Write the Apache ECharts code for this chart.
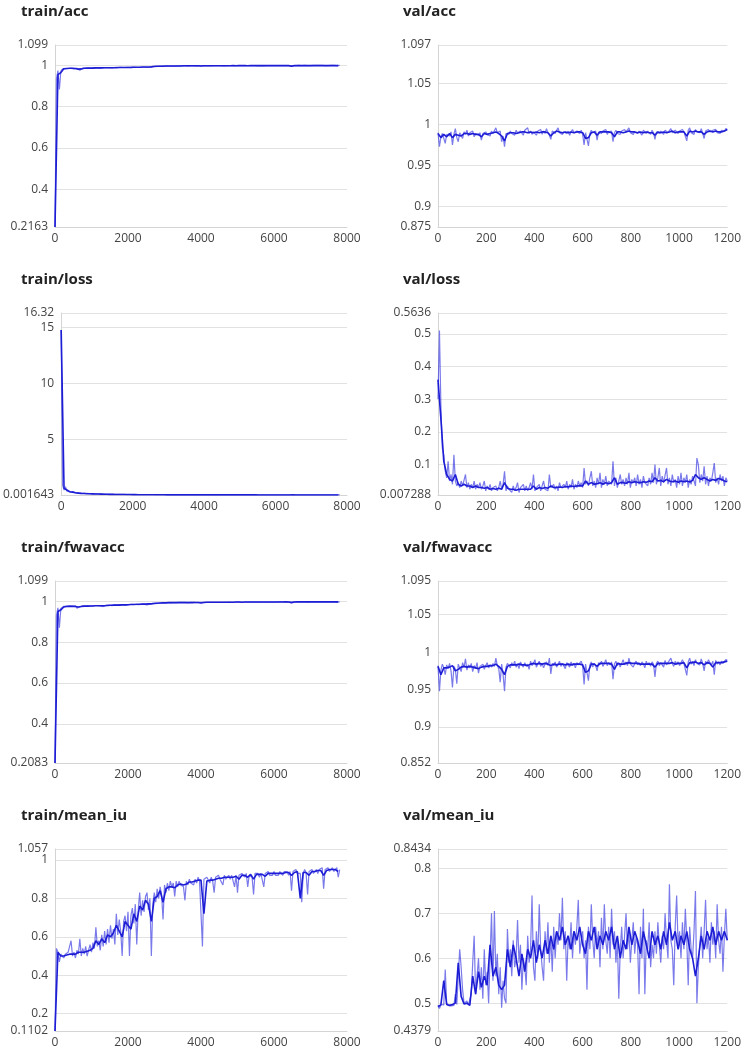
<!DOCTYPE html>
<html>
<head>
<meta charset="utf-8">
<script src="https://cdn.jsdelivr.net/npm/echarts@6/dist/echarts.min.js"></script>
<style>
html,body{margin:0;padding:0;background:#fff;}
#chart{width:744px;height:1050px;}
</style>
</head>
<body>
<div id="chart"></div>
<script>
// ---- sampling grids (steps between stored points) ----
const TRAIN_RAW_STEP = 40;     // train raw values every 40 steps (0..7800)
const TRAIN_SMOOTH_STEP = 80;  // train smoothed values every 80 steps
const VAL_RAW_STEP = 6;        // val raw values every 6 steps (0..1200)
const VAL_SMOOTH_STEP = 12;    // val smoothed values every 12 steps

// ---- train/acc ----
const trainAccRaw = [
0.2163,0.935,0.975,0.883,0.972,0.982,0.986,0.984,0.987,0.985,
0.988,0.986,0.987,0.983,0.988,0.986,0.984,0.977,0.985,0.987,
0.988,0.986,0.988,0.987,0.989,0.986,0.988,0.989,0.987,0.988,
0.989,0.987,0.988,0.990,0.988,0.989,0.987,0.989,0.990,0.988,
0.989,0.990,0.988,0.990,0.989,0.991,0.989,0.990,0.988,0.991,
0.990,0.991,0.989,0.992,0.990,0.991,0.992,0.990,0.992,0.991,
0.993,0.991,0.992,0.990,0.993,0.992,0.994,0.995,0.994,0.996,
0.996,0.995,0.996,0.997,0.996,0.997,0.996,0.997,0.997,0.996,
0.997,0.997,0.998,0.997,0.997,0.998,0.997,0.998,0.997,0.998,
0.998,0.997,0.998,0.998,0.997,0.998,0.998,0.997,0.998,0.998,
0.996,0.998,0.998,0.999,0.998,0.998,0.999,0.998,0.998,0.999,
0.998,0.999,0.998,0.999,0.999,0.998,0.999,0.998,0.999,0.999,
0.998,0.999,0.999,0.998,0.999,0.999,0.998,0.999,0.999,0.999,
0.998,0.999,0.999,0.999,0.998,0.999,0.999,0.999,0.999,0.998,
0.999,0.999,0.999,0.998,0.999,0.999,0.999,0.999,0.998,0.999,
0.999,0.999,0.999,0.999,0.998,0.999,0.999,0.999,0.999,0.999,
0.999,0.999,0.994,0.999,0.999,0.999,0.999,1.0,0.999,0.999,
0.999,1.0,0.999,0.999,1.0,0.999,0.999,1.0,0.999,1.0,
0.999,1.0,0.999,1.0,1.0,0.999,1.0,0.999,1.0,1.0,
0.999,1.0,1.0,0.999,1.0,1.0];
const trainAccSmooth = [
0.2163,0.955,0.965,0.984,0.985,0.986,0.986,0.985,0.982,0.983,
0.986,0.987,0.987,0.987,0.988,0.988,0.988,0.989,0.989,0.989,
0.989,0.989,0.990,0.990,0.990,0.990,0.990,0.991,0.991,0.991,
0.992,0.992,0.992,0.993,0.995,0.996,0.996,0.996,0.997,0.997,
0.997,0.997,0.997,0.997,0.998,0.998,0.998,0.998,0.998,0.998,
0.997,0.998,0.998,0.998,0.998,0.998,0.998,0.998,0.998,0.998,
0.998,0.999,0.998,0.999,0.999,0.999,0.998,0.999,0.999,0.999,
0.999,0.999,0.999,0.999,0.999,0.999,0.999,0.999,0.999,0.999,
0.999,0.996,0.999,0.999,0.999,0.999,0.999,0.999,0.999,0.999,
0.999,0.999,0.999,0.999,0.999,0.999,0.999,0.999];

// ---- train/loss ----
const trainLossRaw = [
14.8,0.9,0.45,0.75,0.35,0.3,0.28,0.25,0.3,0.22,
0.2,0.18,0.22,0.17,0.15,0.16,0.14,0.13,0.15,0.12,
0.12,0.11,0.1,0.11,0.1,0.09,0.1,0.09,0.08,0.09,
0.08,0.08,0.07,0.08,0.07,0.07,0.06,0.07,0.06,0.06,
0.06,0.05,0.06,0.05,0.05,0.05,0.04,0.05,0.04,0.04,
0.04,0.04,0.04,0.03,0.04,0.03,0.03,0.03,0.03,0.03,
0.03,0.03,0.03,0.03,0.025,0.025,0.02,0.02,0.02,0.02,
0.02,0.018,0.018,0.017,0.018,0.016,0.017,0.016,0.016,0.015,
0.016,0.015,0.015,0.014,0.015,0.014,0.014,0.015,0.013,0.014,
0.013,0.014,0.013,0.013,0.014,0.012,0.013,0.012,0.013,0.012,
0.02,0.012,0.012,0.011,0.012,0.011,0.012,0.011,0.011,0.012,
0.011,0.011,0.010,0.011,0.011,0.010,0.011,0.010,0.010,0.011,
0.010,0.010,0.011,0.010,0.010,0.009,0.010,0.010,0.009,0.010,
0.009,0.010,0.009,0.009,0.010,0.009,0.009,0.009,0.008,0.009,
0.009,0.008,0.009,0.009,0.008,0.008,0.009,0.008,0.008,0.008,
0.008,0.008,0.007,0.008,0.008,0.007,0.008,0.007,0.007,0.008,
0.007,0.007,0.015,0.007,0.007,0.007,0.006,0.007,0.007,0.006,
0.007,0.006,0.006,0.007,0.006,0.006,0.006,0.006,0.006,0.005,
0.006,0.005,0.006,0.005,0.005,0.006,0.005,0.005,0.005,0.005,
0.005,0.005,0.004,0.005,0.005,0.004];
const trainLossSmooth = [
14.8,0.6,0.45,0.3,0.26,0.2,0.17,0.15,0.14,0.12,
0.11,0.10,0.09,0.09,0.08,0.07,0.07,0.06,0.06,0.05,
0.05,0.05,0.045,0.04,0.04,0.035,0.035,0.03,0.03,0.03,
0.028,0.026,0.025,0.022,0.02,0.019,0.018,0.017,0.016,0.016,
0.015,0.015,0.014,0.014,0.014,0.013,0.013,0.013,0.013,0.012,
0.014,0.012,0.012,0.011,0.011,0.011,0.011,0.010,0.010,0.010,
0.010,0.010,0.010,0.009,0.009,0.009,0.009,0.009,0.009,0.008,
0.008,0.008,0.008,0.008,0.008,0.008,0.008,0.007,0.007,0.007,
0.007,0.010,0.007,0.007,0.007,0.006,0.006,0.006,0.006,0.006,
0.006,0.005,0.005,0.005,0.005,0.005,0.005,0.005];

// ---- train/fwavacc ----
const trainFwavRaw = [
0.2083,0.93,0.968,0.87,0.965,0.972,0.975,0.973,0.976,0.974,
0.977,0.975,0.976,0.972,0.977,0.966,0.974,0.973,0.976,0.977,
0.978,0.976,0.978,0.977,0.979,0.976,0.978,0.979,0.977,0.979,
0.980,0.977,0.979,0.974,0.979,0.980,0.978,0.981,0.980,0.978,
0.981,0.982,0.979,0.982,0.981,0.983,0.980,0.982,0.983,0.981,
0.983,0.984,0.981,0.985,0.983,0.984,0.986,0.983,0.986,0.985,
0.987,0.986,0.985,0.982,0.988,0.987,0.989,0.990,0.989,0.991,
0.991,0.990,0.992,0.992,0.991,0.993,0.992,0.993,0.993,0.992,
0.993,0.993,0.994,0.993,0.993,0.994,0.993,0.994,0.993,0.994,
0.994,0.993,0.990,0.994,0.993,0.994,0.994,0.993,0.994,0.994,
0.985,0.994,0.995,0.995,0.994,0.995,0.995,0.994,0.995,0.995,
0.994,0.995,0.995,0.995,0.995,0.994,0.995,0.995,0.995,0.996,
0.995,0.995,0.996,0.995,0.995,0.996,0.995,0.996,0.996,0.995,
0.996,0.996,0.995,0.996,0.996,0.996,0.995,0.996,0.996,0.996,
0.996,0.996,0.996,0.995,0.996,0.996,0.997,0.996,0.996,0.996,
0.997,0.996,0.996,0.997,0.996,0.997,0.996,0.997,0.997,0.996,
0.997,0.997,0.989,0.997,0.996,0.997,0.997,0.997,0.996,0.997,
0.997,0.997,0.997,0.996,0.997,0.997,0.997,0.997,0.996,0.997,
0.997,0.997,0.997,0.997,0.996,0.997,0.997,0.997,0.997,0.997,
0.997,0.997,0.997,0.996,0.997,0.997];
const trainFwavSmooth = [
0.2083,0.95,0.958,0.972,0.974,0.975,0.975,0.974,0.972,0.974,
0.976,0.976,0.977,0.977,0.978,0.978,0.978,0.978,0.979,0.980,
0.981,0.981,0.981,0.982,0.982,0.983,0.984,0.984,0.985,0.985,
0.986,0.986,0.987,0.987,0.989,0.990,0.991,0.992,0.992,0.993,
0.993,0.993,0.993,0.993,0.993,0.994,0.993,0.993,0.994,0.994,
0.991,0.994,0.995,0.995,0.995,0.995,0.995,0.995,0.995,0.995,
0.995,0.995,0.996,0.996,0.995,0.996,0.996,0.996,0.996,0.996,
0.996,0.996,0.996,0.996,0.996,0.996,0.996,0.996,0.996,0.997,
0.996,0.993,0.996,0.997,0.997,0.997,0.997,0.997,0.997,0.997,
0.997,0.997,0.997,0.997,0.997,0.997,0.997,0.997];

// ---- train/mean_iu ----
const trainMiuRaw = [
0.1102,0.54,0.52,0.47,0.51,0.50,0.49,0.51,0.50,0.52,
0.53,0.58,0.50,0.52,0.49,0.53,0.51,0.59,0.50,0.54,
0.51,0.55,0.50,0.53,0.56,0.52,0.57,0.54,0.65,0.55,
0.58,0.53,0.61,0.55,0.63,0.56,0.64,0.57,0.66,0.59,
0.64,0.56,0.72,0.61,0.69,0.63,0.50,0.68,0.71,0.63,
0.73,0.50,0.71,0.75,0.67,0.77,0.56,0.74,0.83,0.71,
0.79,0.73,0.81,0.83,0.74,0.80,0.50,0.77,0.83,0.78,
0.85,0.80,0.86,0.82,0.69,0.87,0.83,0.88,0.84,0.89,
0.86,0.88,0.81,0.89,0.86,0.89,0.87,0.88,0.86,0.79,
0.89,0.87,0.90,0.88,0.89,0.87,0.90,0.88,0.91,0.89,
0.90,0.55,0.90,0.89,0.91,0.90,0.88,0.91,0.89,0.83,
0.91,0.90,0.92,0.90,0.91,0.87,0.92,0.90,0.91,0.92,
0.90,0.92,0.91,0.86,0.92,0.83,0.92,0.91,0.93,0.92,
0.91,0.93,0.86,0.92,0.93,0.91,0.82,0.93,0.92,0.93,
0.91,0.93,0.92,0.86,0.93,0.92,0.94,0.92,0.93,0.92,
0.94,0.92,0.93,0.92,0.94,0.93,0.92,0.94,0.93,0.94,
0.92,0.94,0.84,0.94,0.93,0.95,0.93,0.94,0.93,0.78,
0.93,0.95,0.93,0.82,0.94,0.93,0.95,0.93,0.94,0.95,
0.93,0.95,0.94,0.96,0.85,0.95,0.94,0.96,0.94,0.95,
0.96,0.94,0.95,0.96,0.91,0.95];
const trainMiuSmooth = [
0.1102,0.52,0.50,0.50,0.505,0.51,0.51,0.51,0.52,0.52,
0.52,0.525,0.53,0.54,0.58,0.56,0.59,0.57,0.61,0.60,
0.62,0.66,0.63,0.60,0.68,0.66,0.64,0.72,0.68,0.76,
0.74,0.79,0.77,0.68,0.80,0.81,0.84,0.78,0.85,0.86,
0.86,0.855,0.87,0.875,0.87,0.875,0.885,0.885,0.89,0.895,
0.895,0.72,0.89,0.895,0.895,0.90,0.905,0.905,0.91,0.91,
0.91,0.91,0.915,0.90,0.92,0.92,0.91,0.925,0.90,0.925,
0.925,0.925,0.915,0.93,0.93,0.93,0.93,0.93,0.93,0.935,
0.935,0.92,0.935,0.94,0.80,0.935,0.935,0.92,0.94,0.94,
0.945,0.945,0.92,0.945,0.95,0.95,0.95,0.94];

// ---- val/acc ----
const valAccRaw = [
0.990,0.973,0.985,0.989,0.991,0.977,0.988,0.990,0.986,0.991,
0.975,0.988,0.995,0.984,0.979,0.990,0.987,0.983,0.991,0.988,
0.993,0.986,0.990,0.988,0.992,0.985,0.989,0.991,0.987,0.990,
0.981,0.989,0.987,0.991,0.988,0.990,0.986,0.992,0.989,0.991,
0.996,0.990,0.988,0.992,0.979,0.986,0.973,0.989,0.991,0.988,
0.992,0.989,0.991,0.987,0.993,0.990,0.988,0.992,0.990,0.987,
0.993,0.991,0.996,0.989,0.992,0.988,0.991,0.993,0.987,0.992,
0.990,0.994,0.988,0.992,0.989,0.995,0.990,0.987,0.982,0.992,
0.991,0.989,0.993,0.996,0.990,0.992,0.988,0.991,0.993,0.989,
0.992,0.987,0.991,0.994,0.990,0.988,0.992,0.991,0.989,0.993,
0.988,0.975,0.990,0.992,0.974,0.989,0.993,0.990,0.988,0.992,
0.981,0.991,0.993,0.989,0.992,0.990,0.994,0.988,0.991,0.990,
0.992,0.979,0.990,0.993,0.989,0.991,0.988,0.992,0.990,0.994,
0.991,0.989,0.996,0.990,0.992,0.988,0.991,0.993,0.989,0.992,
0.990,0.987,0.993,0.991,0.989,0.992,0.990,0.988,0.993,0.990,
0.982,0.991,0.993,0.989,0.992,0.990,0.988,0.993,0.991,0.990,
0.992,0.995,0.990,0.988,0.993,0.991,0.989,0.992,0.990,0.994,
0.991,0.989,0.980,0.993,0.996,0.990,0.992,0.988,0.994,0.991,
0.993,0.990,0.995,0.989,0.983,0.992,0.990,0.994,0.991,0.989,
0.993,0.991,0.994,0.990,0.992,0.989,0.993,0.991,0.992,0.995,
0.994];
const valAccSmooth = [
0.989,0.984,0.988,0.985,0.989,0.984,0.988,0.987,0.986,0.989,
0.989,0.988,0.989,0.988,0.988,0.985,0.989,0.988,0.989,0.990,
0.991,0.989,0.986,0.980,0.989,0.990,0.990,0.989,0.990,0.991,
0.991,0.990,0.991,0.990,0.991,0.990,0.991,0.991,0.990,0.986,
0.990,0.992,0.991,0.990,0.991,0.990,0.991,0.990,0.991,0.991,
0.990,0.983,0.984,0.990,0.991,0.987,0.991,0.991,0.991,0.991,
0.990,0.985,0.991,0.991,0.990,0.991,0.992,0.991,0.991,0.990,
0.991,0.990,0.991,0.990,0.990,0.987,0.991,0.990,0.991,0.990,
0.991,0.992,0.990,0.991,0.991,0.991,0.986,0.992,0.991,0.992,
0.991,0.991,0.988,0.991,0.992,0.991,0.992,0.991,0.991,0.992,
0.994];

// ---- val/loss ----
const valLossRaw = [
0.30,0.51,0.28,0.15,0.13,0.08,0.06,0.11,0.05,0.07,
0.04,0.13,0.05,0.035,0.045,0.03,0.05,0.035,0.04,0.07,
0.03,0.045,0.025,0.04,0.03,0.05,0.025,0.04,0.03,0.045,
0.025,0.035,0.05,0.02,0.035,0.025,0.04,0.02,0.03,0.025,
0.035,0.02,0.03,0.05,0.025,0.04,0.08,0.02,0.035,0.025,
0.03,0.015,0.035,0.02,0.03,0.045,0.015,0.03,0.025,0.04,
0.02,0.035,0.02,0.03,0.045,0.025,0.07,0.02,0.03,0.025,
0.04,0.02,0.035,0.05,0.025,0.03,0.02,0.07,0.03,0.025,
0.04,0.025,0.035,0.02,0.045,0.03,0.025,0.04,0.03,0.05,
0.025,0.04,0.03,0.055,0.025,0.04,0.03,0.05,0.035,0.045,
0.03,0.09,0.04,0.05,0.035,0.06,0.08,0.035,0.05,0.03,
0.06,0.04,0.075,0.03,0.055,0.04,0.065,0.035,0.05,0.045,
0.04,0.11,0.035,0.06,0.03,0.05,0.07,0.04,0.055,0.035,
0.06,0.04,0.075,0.03,0.055,0.045,0.06,0.035,0.07,0.04,
0.055,0.03,0.065,0.045,0.05,0.035,0.06,0.04,0.075,0.045,
0.10,0.04,0.06,0.09,0.035,0.065,0.045,0.05,0.09,0.04,
0.06,0.035,0.07,0.045,0.055,0.03,0.065,0.04,0.075,0.035,
0.06,0.045,0.07,0.03,0.055,0.04,0.065,0.05,0.035,0.12,
0.10,0.045,0.07,0.05,0.095,0.04,0.065,0.035,0.06,0.05,
0.075,0.105,0.045,0.06,0.04,0.07,0.05,0.065,0.035,0.06,
0.05];
const valLossSmooth = [
0.36,0.24,0.11,0.07,0.055,0.05,0.07,0.04,0.035,0.04,
0.035,0.035,0.03,0.035,0.03,0.03,0.028,0.03,0.025,0.027,
0.025,0.028,0.025,0.045,0.028,0.025,0.025,0.022,0.025,0.025,
0.025,0.025,0.025,0.035,0.025,0.03,0.027,0.03,0.028,0.035,
0.03,0.03,0.032,0.03,0.033,0.032,0.035,0.033,0.035,0.036,
0.035,0.05,0.04,0.045,0.04,0.042,0.045,0.04,0.045,0.042,
0.045,0.06,0.04,0.045,0.045,0.043,0.048,0.045,0.048,0.046,
0.045,0.048,0.046,0.05,0.048,0.06,0.05,0.052,0.048,0.055,
0.05,0.048,0.05,0.046,0.05,0.048,0.05,0.047,0.052,0.07,
0.06,0.055,0.06,0.055,0.05,0.055,0.052,0.058,0.055,0.05,
0.048];

// ---- val/fwavacc ----
const valFwavRaw = [
0.982,0.948,0.976,0.984,0.979,0.970,0.983,0.978,0.985,0.975,
0.953,0.981,0.977,0.958,0.984,0.979,0.974,0.986,0.980,0.991,
0.976,0.983,0.979,0.985,0.974,0.982,0.978,0.986,0.972,0.981,
0.979,0.984,0.977,0.982,0.986,0.979,0.983,0.980,0.985,0.981,
0.992,0.982,0.978,0.960,0.984,0.970,0.948,0.980,0.985,0.982,
0.979,0.986,0.982,0.988,0.980,0.984,0.978,0.987,0.983,0.980,
0.986,0.981,0.984,0.977,0.988,0.982,0.985,0.990,0.980,0.984,
0.988,0.981,0.985,0.979,0.984,0.987,0.982,0.992,0.971,0.985,
0.982,0.987,0.980,0.984,0.988,0.981,0.985,0.983,0.978,0.986,
0.984,0.980,0.987,0.982,0.985,0.979,0.986,0.983,0.981,0.988,
0.982,0.957,0.984,0.986,0.962,0.983,0.987,0.980,0.985,0.982,
0.975,0.986,0.983,0.988,0.981,0.985,0.990,0.982,0.986,0.983,
0.987,0.964,0.984,0.988,0.982,0.986,0.980,0.985,0.990,0.983,
0.987,0.982,0.992,0.984,0.986,0.980,0.985,0.988,0.983,0.986,
0.982,0.987,0.984,0.979,0.988,0.983,0.986,0.981,0.987,0.984,
0.967,0.985,0.988,0.982,0.986,0.984,0.980,0.989,0.983,0.986,
0.984,0.992,0.985,0.981,0.988,0.984,0.987,0.982,0.986,0.990,
0.985,0.983,0.969,0.987,0.992,0.984,0.988,0.982,0.990,0.985,
0.987,0.983,0.991,0.985,0.975,0.988,0.984,0.990,0.986,0.983,
0.988,0.970,0.989,0.984,0.987,0.983,0.988,0.985,0.986,0.990,
0.989];
const valFwavSmooth = [
0.981,0.970,0.979,0.979,0.980,0.982,0.975,0.977,0.980,0.981,
0.980,0.981,0.980,0.979,0.978,0.980,0.981,0.981,0.982,0.982,
0.984,0.981,0.977,0.970,0.981,0.983,0.983,0.983,0.984,0.983,
0.983,0.982,0.984,0.985,0.984,0.985,0.984,0.985,0.984,0.982,
0.984,0.983,0.984,0.984,0.983,0.984,0.983,0.984,0.984,0.984,
0.983,0.973,0.975,0.984,0.984,0.981,0.985,0.985,0.985,0.985,
0.984,0.977,0.985,0.984,0.984,0.985,0.986,0.985,0.985,0.985,
0.984,0.984,0.984,0.984,0.984,0.980,0.985,0.985,0.985,0.985,
0.985,0.986,0.984,0.985,0.985,0.986,0.979,0.986,0.986,0.987,
0.985,0.986,0.983,0.986,0.985,0.980,0.986,0.986,0.986,0.987,
0.988];

// ---- val/mean_iu ----
const valMiuRaw = [
0.495,0.488,0.497,0.494,0.496,0.575,0.50,0.495,0.497,0.494,
0.496,0.495,0.52,0.497,0.50,0.62,0.58,0.53,0.50,0.497,
0.505,0.496,0.50,0.52,0.59,0.65,0.52,0.56,0.60,0.53,
0.58,0.51,0.62,0.54,0.57,0.50,0.60,0.70,0.55,0.705,
0.56,0.61,0.52,0.58,0.49,0.55,0.51,0.50,0.665,0.59,
0.62,0.56,0.64,0.58,0.60,0.685,0.59,0.63,0.53,0.60,
0.58,0.54,0.65,0.59,0.62,0.74,0.58,0.55,0.66,0.60,
0.72,0.62,0.58,0.55,0.66,0.61,0.68,0.59,0.65,0.57,
0.67,0.60,0.66,0.63,0.70,0.64,0.735,0.62,0.66,0.55,
0.65,0.62,0.68,0.60,0.66,0.63,0.67,0.73,0.61,0.64,
0.66,0.60,0.64,0.53,0.67,0.62,0.72,0.64,0.60,0.67,
0.63,0.66,0.58,0.69,0.62,0.72,0.64,0.61,0.67,0.60,
0.71,0.63,0.66,0.59,0.64,0.51,0.62,0.67,0.60,0.65,
0.70,0.62,0.66,0.59,0.64,0.68,0.61,0.65,0.63,0.52,
0.67,0.60,0.71,0.52,0.64,0.62,0.68,0.58,0.63,0.60,
0.66,0.61,0.68,0.63,0.59,0.65,0.62,0.70,0.64,0.60,
0.765,0.64,0.62,0.54,0.67,0.74,0.63,0.66,0.60,0.68,
0.62,0.71,0.64,0.54,0.67,0.62,0.60,0.66,0.75,0.50,
0.58,0.63,0.67,0.60,0.66,0.73,0.62,0.65,0.59,0.68,
0.63,0.66,0.60,0.72,0.64,0.61,0.67,0.57,0.65,0.71,
0.64];
const valMiuSmooth = [
0.492,0.496,0.55,0.497,0.495,0.497,0.50,0.59,0.515,0.498,
0.50,0.495,0.56,0.52,0.57,0.535,0.56,0.54,0.63,0.56,
0.58,0.54,0.53,0.54,0.62,0.58,0.63,0.60,0.56,0.61,
0.57,0.62,0.60,0.64,0.59,0.63,0.60,0.64,0.61,0.65,
0.62,0.66,0.64,0.67,0.63,0.65,0.62,0.66,0.64,0.67,
0.63,0.61,0.66,0.64,0.67,0.62,0.65,0.63,0.66,0.64,
0.67,0.62,0.65,0.60,0.64,0.62,0.67,0.63,0.66,0.64,
0.61,0.66,0.63,0.60,0.66,0.63,0.65,0.62,0.66,0.63,
0.68,0.64,0.66,0.62,0.65,0.63,0.66,0.62,0.60,0.56,
0.60,0.65,0.62,0.66,0.64,0.67,0.63,0.66,0.64,0.66,
0.64];

// ---- panel definitions ----
const titles = ['train/acc','val/acc','train/loss','val/loss','train/fwavacc','val/fwavacc','train/mean_iu','val/mean_iu'];
const yMins = [0.2163, 0.875, 0.001643, 0.007288, 0.2083, 0.852, 0.1102, 0.4379];
const yMaxs = [1.099, 1.097, 16.32, 0.5636, 1.099, 1.095, 1.057, 0.8434];
const ySplits = [5, 5, 3, 5, 5, 5, 5, 5];
const rawSets = [trainAccRaw, valAccRaw, trainLossRaw, valLossRaw, trainFwavRaw, valFwavRaw, trainMiuRaw, valMiuRaw];
const smoothSets = [trainAccSmooth, valAccSmooth, trainLossSmooth, valLossSmooth, trainFwavSmooth, valFwavSmooth, trainMiuSmooth, valMiuSmooth];
const trainXMax = 8000, trainXInterval = 2000;
const valXMax = 1200, valXInterval = 200;

const RAW_COLOR = 'rgba(40,40,222,0.62)';
const SMOOTH_COLOR = '#1d1dd6';
const FONT = '"Open Sans", "Noto Sans", sans-serif';

const chart = echarts.init(document.getElementById('chart'), null, {renderer: 'canvas'});
const option = {
  animation: false,
  backgroundColor: '#ffffff',
  title: [], grid: [], xAxis: [], yAxis: [], series: []
};
const fmt = v => String(parseFloat(Number(v).toPrecision(10)));
const labelBase = {fontFamily: FONT, fontSize: 12, color: '#444', hideOverlap: false};

titles.forEach((t, k) => {
  const col = k % 2, row = Math.floor(k / 2);
  const isTrain = col === 0;
  option.title.push({
    text: t, left: isTrain ? 21 : 403, top: 4 + 268 * row, padding: 0,
    textStyle: {fontFamily: FONT, fontSize: 15, fontWeight: 'bold', color: '#222'}
  });
  option.grid.push({
    left: isTrain ? 55 : 438, top: 45 + 268 * row,
    width: isTrain ? 292 : 291, height: 182, containLabel: false
  });
  option.xAxis.push({
    type: 'value', gridIndex: k, min: 0,
    max: isTrain ? trainXMax : valXMax,
    interval: isTrain ? trainXInterval : valXInterval,
    axisLine: {show: true, lineStyle: {color: '#d4d4d4', width: 1}},
    axisTick: {show: false},
    splitLine: {show: false},
    axisLabel: Object.assign({}, labelBase, {margin: 6, formatter: fmt, showMinLabel: true, showMaxLabel: true})
  });
  // main value axis: min label + nice ticks (max label drawn by the companion axis)
  option.yAxis.push({
    type: 'value', gridIndex: k, min: yMins[k], max: yMaxs[k], splitNumber: ySplits[k],
    axisLine: {show: true, lineStyle: {color: '#d4d4d4', width: 1}},
    axisTick: {show: false},
    splitLine: {show: true, lineStyle: {color: '#e2e2e2', width: 1}},
    axisLabel: Object.assign({}, labelBase, {margin: 7, formatter: fmt, showMinLabel: true, showMaxLabel: false})
  });
  const rs = isTrain ? TRAIN_RAW_STEP : VAL_RAW_STEP;
  const ss = isTrain ? TRAIN_SMOOTH_STEP : VAL_SMOOTH_STEP;
  const yIdx = option.yAxis.length - 1;
  option.series.push({
    type: 'line', xAxisIndex: k, yAxisIndex: yIdx, showSymbol: false, symbol: 'none',
    data: rawSets[k].map((v, i) => [i * rs, v]),
    lineStyle: {color: RAW_COLOR, width: 1.2}, z: 2
  });
  option.series.push({
    type: 'line', xAxisIndex: k, yAxisIndex: yIdx, showSymbol: false, symbol: 'none',
    data: smoothSets[k].map((v, i) => [i * ss, v]),
    lineStyle: {color: SMOOTH_COLOR, width: 1.6}, z: 3
  });
  // companion axis on the same grid that only shows the max label
  const yMax = yMaxs[k];
  option.yAxis.push({
    type: 'value', gridIndex: k, min: yMins[k], max: yMax, splitNumber: ySplits[k],
    position: 'left',
    axisLine: {show: false}, axisTick: {show: false}, splitLine: {show: false},
    axisLabel: Object.assign({}, labelBase, {margin: 7, showMinLabel: false, showMaxLabel: true,
      formatter: v => (Math.abs(v - yMax) < 1e-9 ? fmt(v) : '')})
  });
});
chart.setOption(option);
</script>
</body>
</html>
